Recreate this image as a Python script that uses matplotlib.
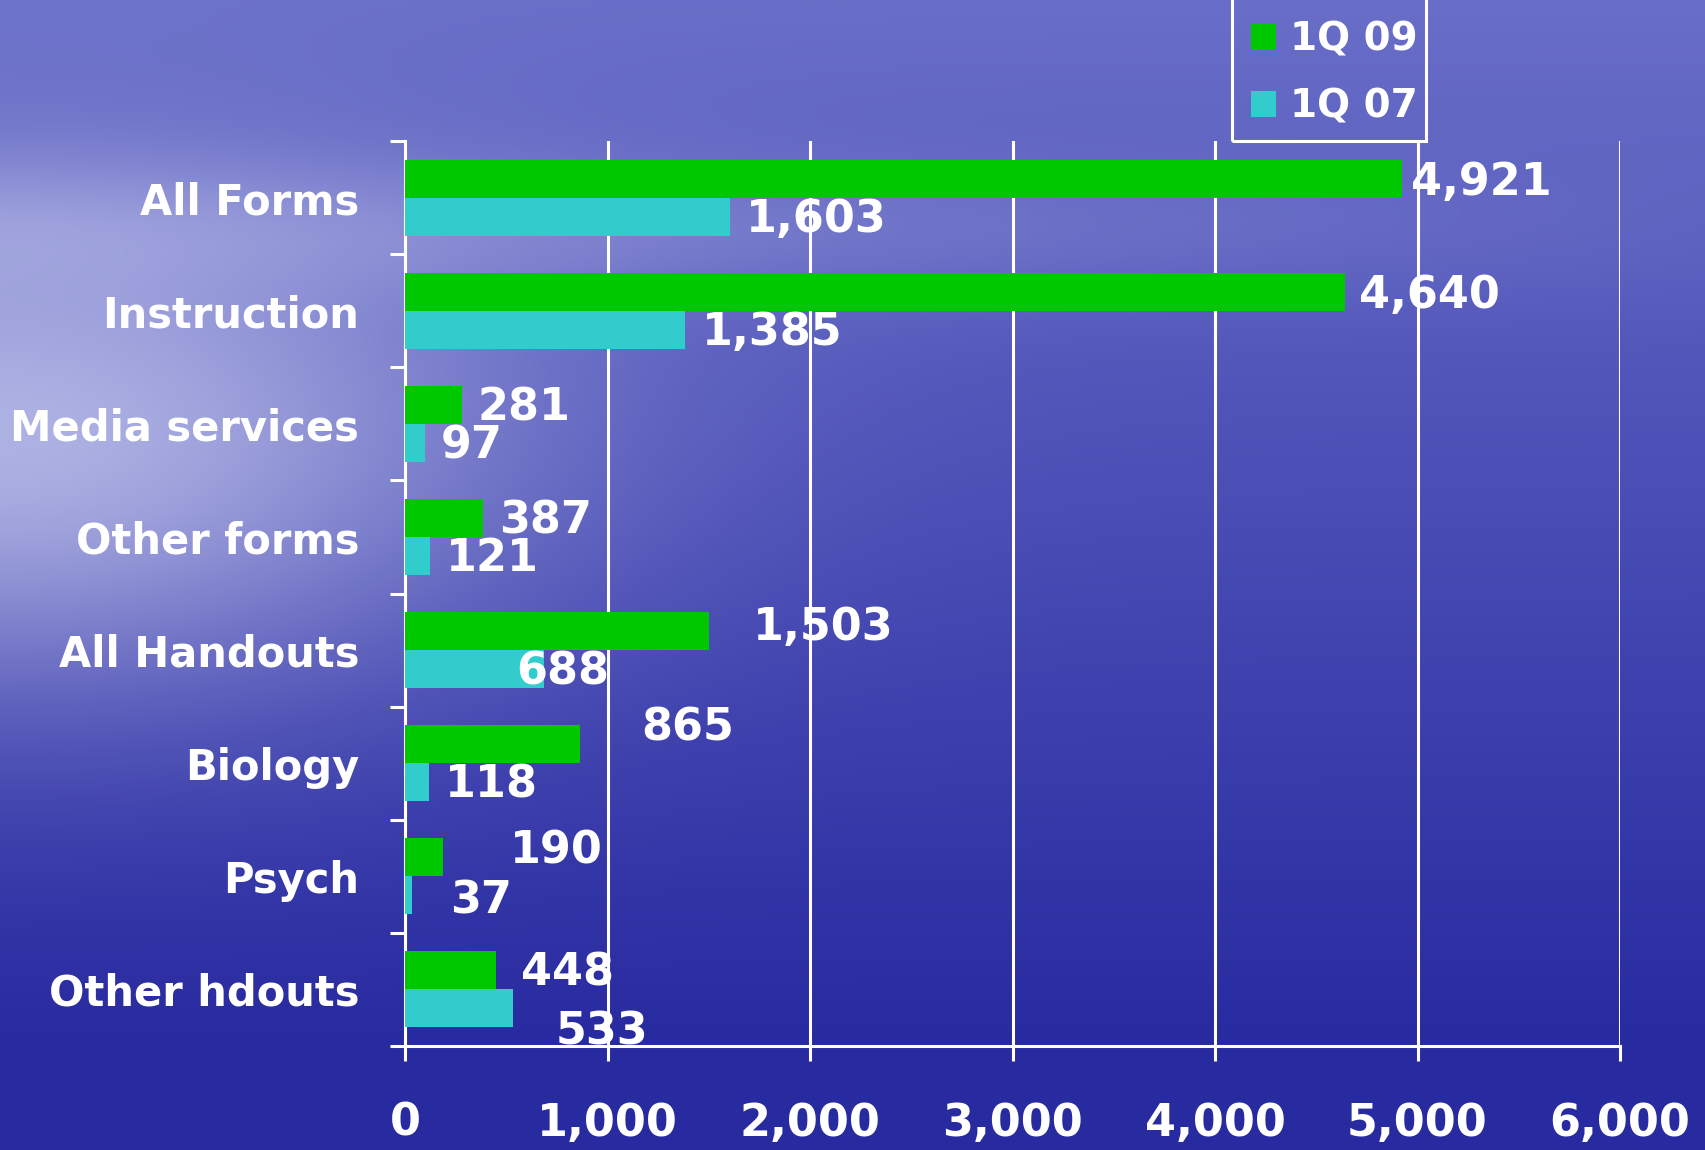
import matplotlib
matplotlib.use("Agg")
import matplotlib.pyplot as plt
from matplotlib.patches import Patch, Rectangle
from matplotlib.ticker import FuncFormatter, FixedLocator
import numpy as np

# data
categories = ["All Forms", "Instruction", "Media services", "Other forms",
              "All Handouts", "Biology", "Psych", "Other hdouts"]
q1_09 = [4921, 4640, 281, 387, 1503, 865, 190, 448]
q1_07 = [1603, 1385, 97, 121, 688, 118, 37, 533]
series_names = ["1Q 09", "1Q 07"]
x_ticks = [0, 1000, 2000, 3000, 4000, 5000, 6000]

GREEN = "#00c800"
CYAN = "#33cccc"
FONT = "DejaVu Sans"

# label nudges in pixels (x, y) where the original slide put them off the bar end
green_nudge = {0: (9, -4), 1: (14, -4), 4: (44, 4), 5: (61, 16), 6: (66, 6), 7: (25, -3)}
cyan_nudge = {4: (-28, -3), 6: (38, -6), 7: (43, -24)}


def make_background(h, w):
    # sky/sea style backdrop: lighter at top-left, deep blue at the bottom
    yy, xx = np.mgrid[0:1:h * 1j, 0:1:w * 1j]
    top = np.array([105, 110, 200]) / 255
    bottom = np.array([40, 42, 160]) / 255
    t = np.clip(yy * 1.1, 0, 1)[..., None]
    img = top * (1 - t) + bottom * t
    glow = np.exp(-(((xx - 0.0) / 0.3) ** 2 + ((yy - 0.38) / 0.22) ** 2))[..., None]
    band = np.exp(-((yy - 0.2) / 0.06) ** 2)[..., None] * np.clip(1 - xx * 0.9, 0, 1)[..., None]
    light = np.array([215, 218, 245]) / 255
    img = img * (1 - 0.7 * glow) + light * 0.7 * glow
    img = img * (1 - 0.3 * band) + light * 0.3 * band
    return np.clip(img, 0, 1)


fig = plt.figure(figsize=(17.05, 11.5), dpi=100)
bg = fig.add_axes([0, 0, 1, 1], zorder=-10)
bg.imshow(make_background(230, 341), aspect="auto", extent=(0, 1, 0, 1), interpolation="bicubic")
bg.set_axis_off()

ax = fig.add_axes([405 / 1705, 1 - 1046 / 1150, 1215 / 1705, 905 / 1150])
ax.set_facecolor("none")

y = np.arange(len(categories))
h = 0.336
ax.barh(y - h / 2, q1_09, height=h, color=GREEN, zorder=3)
ax.barh(y + h / 2, q1_07, height=h, color=CYAN, zorder=3)

ax.set_xlim(0, 6000)
ax.set_ylim(len(categories) - 0.5, -0.5)

# value labels
for i, v in enumerate(q1_09):
    dx, dy = green_nudge.get(i, (16, -3))
    ax.annotate(f"{v:,}", (v, y[i] - h / 2), xytext=(dx, dy), textcoords="offset pixels",
                ha="left", va="center", color="white", fontsize=32, fontweight="bold",
                family=FONT, zorder=5)
for i, v in enumerate(q1_07):
    dx, dy = cyan_nudge.get(i, (16, -3))
    ax.annotate(f"{v:,}", (v, y[i] + h / 2), xytext=(dx, dy), textcoords="offset pixels",
                ha="left", va="center", color="white", fontsize=32, fontweight="bold",
                family=FONT, zorder=5)

# axes styling
ax.xaxis.set_major_locator(FixedLocator(x_ticks))
ax.xaxis.set_major_formatter(FuncFormatter(lambda v, p: f"{int(v):,}"))
ax.grid(axis="x", color="white", linewidth=2.2, zorder=1)
ax.set_axisbelow(True)
ax.set_yticks(y)
ax.set_yticklabels(categories)
ax.set_yticks(np.arange(-0.5, len(categories)), minor=True)
ax.tick_params(axis="y", which="major", length=0, pad=33)
ax.tick_params(axis="y", which="minor", length=11, width=2.2, color="white", direction="out")
ax.tick_params(axis="x", length=11, width=2.2, color="white", direction="out", pad=29)
for lab in ax.get_yticklabels():
    lab.set_fontsize(30)
for lab in ax.get_xticklabels():
    lab.set_fontsize(32)
for lab in ax.get_yticklabels() + ax.get_xticklabels():
    lab.set_color("white")
    lab.set_fontweight("bold")
    lab.set_family(FONT)

for side in ["top", "right"]:
    ax.spines[side].set_visible(False)
for side in ["left", "bottom"]:
    ax.spines[side].set_color("white")
    ax.spines[side].set_linewidth(2.2)

# legend box, its top runs off the slide
fig.patches.append(Rectangle((1232 / 1705, 1 - 141 / 1150), 194 / 1705, 0.2,
                             transform=fig.transFigure, fill=False,
                             edgecolor="white", linewidth=2.2))
handles = [Patch(facecolor=GREEN), Patch(facecolor=CYAN)]
leg = fig.legend(handles, series_names, loc="center left",
                 bbox_to_anchor=(1216 / 1705, 1 - 73 / 1150), frameon=False,
                 handlelength=0.65, handleheight=0.65, handletextpad=0.35,
                 labelspacing=0.75, prop={"family": FONT, "weight": "bold", "size": 28})
for t in leg.get_texts():
    t.set_color("white")

fig.savefig("out.png", dpi=100)
